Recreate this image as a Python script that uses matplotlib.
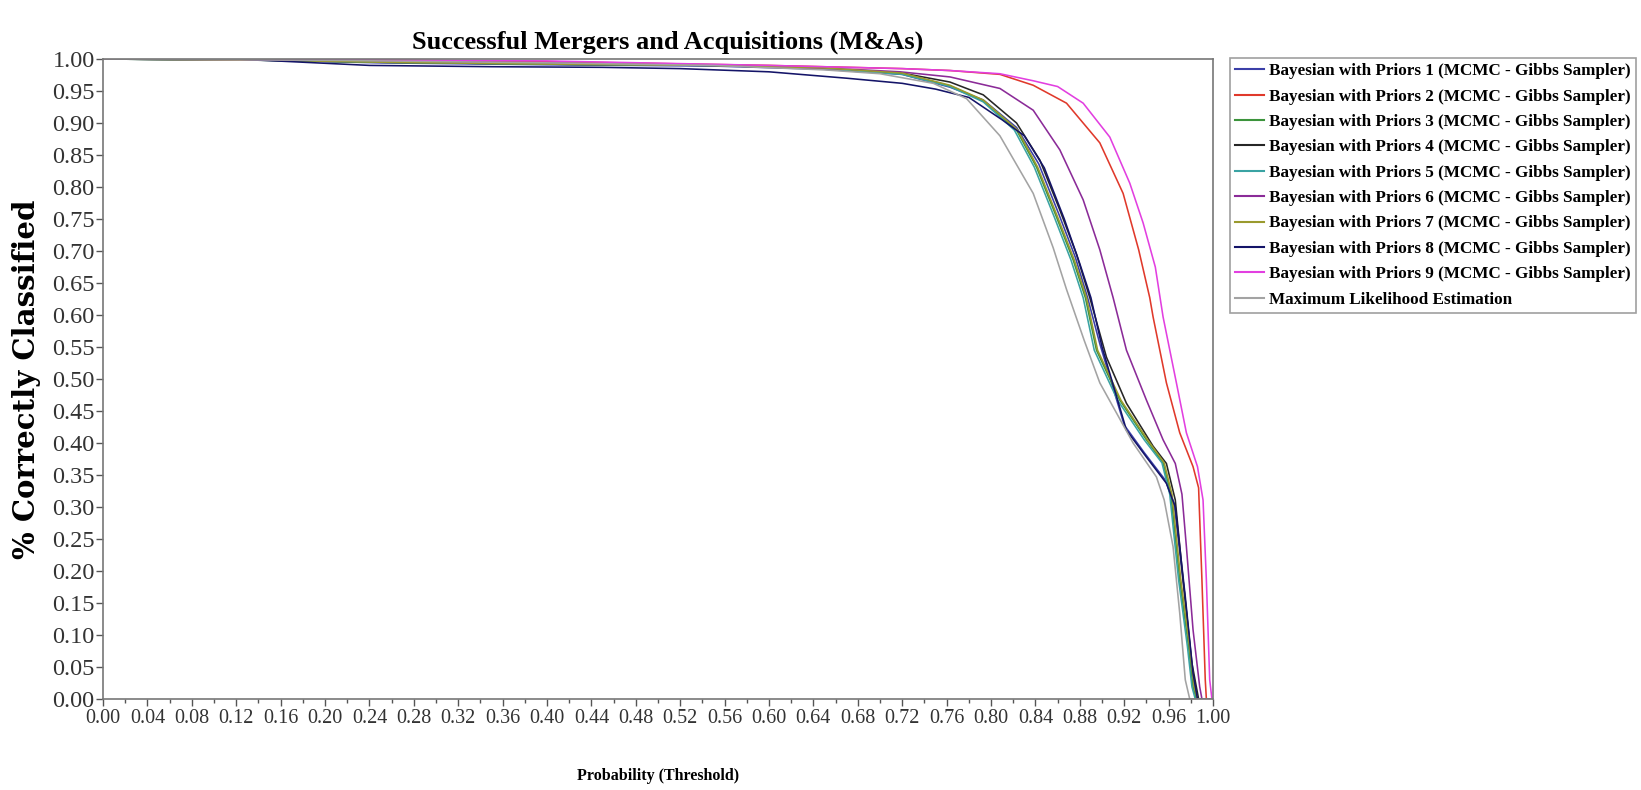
import matplotlib
matplotlib.use("Agg")
import matplotlib.pyplot as plt
from matplotlib.ticker import MultipleLocator, FormatStrFormatter

# Threshold / fraction-correct pairs for each classifier
thr_p1 = [0, 0.15, 0.25, 0.40, 0.55, 0.65, 0.72, 0.763, 0.793, 0.823, 0.843, 0.861, 0.876, 0.887, 0.898, 0.920, 0.938, 0.957, 0.965, 0.974, 0.981, 0.985, 1.0]
acc_p1 = [1.0, 0.998, 0.994, 0.991, 0.989, 0.984, 0.976, 0.956, 0.936, 0.893, 0.836, 0.758, 0.690, 0.627, 0.555, 0.428, 0.385, 0.342, 0.305, 0.170, 0.050, 0.0, 0.0]

thr_p2 = [0, 0.20, 0.40, 0.60, 0.72, 0.763, 0.808, 0.838, 0.868, 0.898, 0.919, 0.933, 0.943, 0.946, 0.958, 0.970, 0.982, 0.987, 0.990, 0.993, 0.994, 1.0]
acc_p2 = [1.0, 0.999, 0.996, 0.990, 0.985, 0.982, 0.976, 0.959, 0.931, 0.869, 0.790, 0.702, 0.627, 0.597, 0.494, 0.416, 0.363, 0.330, 0.186, 0.030, 0.0, 0.0]

thr_p3 = [0, 0.15, 0.25, 0.40, 0.55, 0.65, 0.72, 0.763, 0.793, 0.823, 0.841, 0.859, 0.874, 0.885, 0.895, 0.916, 0.940, 0.955, 0.962, 0.970, 0.978, 0.982, 0.985, 1.0]
acc_p3 = [1.0, 0.998, 0.995, 0.992, 0.990, 0.985, 0.977, 0.958, 0.935, 0.889, 0.831, 0.753, 0.686, 0.627, 0.545, 0.467, 0.405, 0.369, 0.320, 0.186, 0.081, 0.019, 0.0, 0.0]

thr_p4 = [0, 0.15, 0.25, 0.40, 0.55, 0.65, 0.72, 0.763, 0.793, 0.823, 0.844, 0.862, 0.877, 0.889, 0.904, 0.922, 0.946, 0.958, 0.966, 0.973, 0.981, 0.987, 1.0]
acc_p4 = [1.0, 0.998, 0.995, 0.992, 0.990, 0.985, 0.978, 0.964, 0.944, 0.900, 0.842, 0.764, 0.695, 0.627, 0.534, 0.462, 0.395, 0.368, 0.311, 0.186, 0.056, 0.0, 0.0]

thr_p5 = [0, 0.15, 0.25, 0.40, 0.55, 0.65, 0.72, 0.763, 0.793, 0.821, 0.839, 0.857, 0.872, 0.883, 0.893, 0.914, 0.938, 0.954, 0.961, 0.969, 0.977, 0.981, 0.984, 1.0]
acc_p5 = [1.0, 0.998, 0.995, 0.992, 0.990, 0.985, 0.976, 0.957, 0.933, 0.889, 0.831, 0.753, 0.686, 0.627, 0.545, 0.467, 0.405, 0.369, 0.320, 0.186, 0.081, 0.019, 0.0, 0.0]

thr_p6 = [0, 0.20, 0.40, 0.55, 0.673, 0.718, 0.763, 0.808, 0.838, 0.862, 0.883, 0.898, 0.910, 0.922, 0.940, 0.955, 0.966, 0.972, 0.976, 0.982, 0.988, 0.990, 1.0]
acc_p6 = [1.0, 0.998, 0.994, 0.990, 0.984, 0.980, 0.972, 0.954, 0.920, 0.858, 0.780, 0.702, 0.627, 0.545, 0.467, 0.405, 0.368, 0.320, 0.238, 0.108, 0.019, 0.0, 0.0]

thr_p7 = [0, 0.15, 0.25, 0.40, 0.55, 0.65, 0.72, 0.763, 0.793, 0.824, 0.842, 0.860, 0.875, 0.886, 0.896, 0.917, 0.941, 0.956, 0.963, 0.971, 0.979, 0.983, 0.986, 1.0]
acc_p7 = [1.0, 0.998, 0.995, 0.992, 0.990, 0.986, 0.978, 0.959, 0.936, 0.889, 0.831, 0.753, 0.686, 0.627, 0.545, 0.467, 0.405, 0.369, 0.320, 0.186, 0.081, 0.019, 0.0, 0.0]

thr_p8 = [0, 0.12, 0.18, 0.24, 0.35, 0.45, 0.52, 0.60, 0.67, 0.72, 0.75, 0.78, 0.81, 0.83, 0.848, 0.866, 0.880, 0.890, 0.900, 0.922, 0.940, 0.958, 0.966, 0.975, 0.982, 0.986, 1.0]
acc_p8 = [1.0, 1.0, 0.995, 0.990, 0.988, 0.987, 0.985, 0.980, 0.970, 0.962, 0.953, 0.940, 0.905, 0.880, 0.830, 0.750, 0.680, 0.627, 0.550, 0.420, 0.378, 0.337, 0.300, 0.160, 0.040, 0.0, 0.0]

thr_p9 = [0, 0.20, 0.40, 0.60, 0.72, 0.763, 0.808, 0.838, 0.860, 0.883, 0.907, 0.925, 0.937, 0.948, 0.955, 0.967, 0.976, 0.986, 0.991, 0.994, 0.997, 0.999, 1.0]
acc_p9 = [1.0, 0.999, 0.997, 0.990, 0.985, 0.982, 0.977, 0.966, 0.957, 0.931, 0.878, 0.806, 0.744, 0.675, 0.597, 0.494, 0.416, 0.363, 0.311, 0.186, 0.030, 0.0, 0.0]

thr_mle = [0, 0.20, 0.40, 0.55, 0.65, 0.70, 0.748, 0.778, 0.808, 0.838, 0.856, 0.868, 0.884, 0.898, 0.928, 0.949, 0.956, 0.964, 0.970, 0.975, 0.979, 1.0]
acc_mle = [1.0, 0.998, 0.994, 0.990, 0.983, 0.977, 0.962, 0.938, 0.880, 0.790, 0.705, 0.640, 0.560, 0.494, 0.400, 0.347, 0.311, 0.238, 0.134, 0.030, 0.0, 0.0]

labels = [f"Bayesian with Priors {i} (MCMC - Gibbs Sampler)" for i in range(1, 10)]
labels.append("Maximum Likelihood Estimation")

series = [
    (thr_p1, acc_p1, "#3b3fa8"),
    (thr_p2, acc_p2, "#e0392b"),
    (thr_p3, acc_p3, "#3c943c"),
    (thr_p4, acc_p4, "#262626"),
    (thr_p5, acc_p5, "#3aa3a3"),
    (thr_p6, acc_p6, "#8b2b98"),
    (thr_p7, acc_p7, "#9a9a2e"),
    (thr_p8, acc_p8, "#141468"),
    (thr_p9, acc_p9, "#e23fe0"),
    (thr_mle, acc_mle, "#a3a3a3"),
]

serif = "Liberation Serif"

fig = plt.figure(figsize=(16.41, 7.90), dpi=100)
ax = fig.add_axes([0.0628, 0.1152, 0.6764, 0.8101])

for (x, y, c), lab in zip(series, labels):
    ax.plot(x, y, color=c, lw=1.15, label=lab)

ax.set_xlim(0, 1)
ax.set_ylim(0, 1)
ax.xaxis.set_major_locator(MultipleLocator(0.04))
ax.xaxis.set_minor_locator(MultipleLocator(0.02))
ax.yaxis.set_major_locator(MultipleLocator(0.05))
ax.xaxis.set_major_formatter(FormatStrFormatter("%.2f"))
ax.yaxis.set_major_formatter(FormatStrFormatter("%.2f"))
ax.tick_params(axis="both", which="both", direction="out", color="#555555")
ax.tick_params(axis="both", which="major", length=5, width=1)
ax.tick_params(axis="x", which="minor", length=3, width=1)
ax.tick_params(axis="x", pad=2)
ax.tick_params(axis="y", pad=1)
for t in ax.get_xticklabels():
    t.set_fontfamily(serif)
    t.set_fontsize(14.5)
    t.set_color("#333333")
for t in ax.get_yticklabels():
    t.set_fontfamily(serif)
    t.set_fontsize(17.5)
    t.set_color("#333333")
for s in ax.spines.values():
    s.set_color("#777777")
    s.set_linewidth(1.2)

fig.text(0.407, 0.947, "Successful Mergers and Acquisitions (M&As)", ha="center", va="center",
         fontfamily=serif, fontweight="bold", fontsize=19)
fig.text(0.401, 0.018, "Probability (Threshold)", ha="center", va="center",
         fontfamily=serif, fontweight="bold", fontsize=11.5)
fig.text(0.016, 0.52, "% Correctly Classified", ha="center", va="center", rotation=90,
         fontfamily=["DejaVu Serif"], fontweight="bold", fontsize=21)

leg = ax.legend(loc="upper left", bbox_to_anchor=(0.7495, 0.9266), bbox_transform=fig.transFigure,
                borderaxespad=0, frameon=True, fancybox=False, handlelength=1.7,
                handletextpad=0.3, labelspacing=0.55, borderpad=0.3,
                prop={"family": serif, "weight": "bold", "size": 12.3})
leg.get_frame().set_edgecolor("#888888")
leg.get_frame().set_linewidth(1.2)
for h in leg.get_lines():
    h.set_linewidth(1.5)

fig.savefig("out.png", dpi=100)
